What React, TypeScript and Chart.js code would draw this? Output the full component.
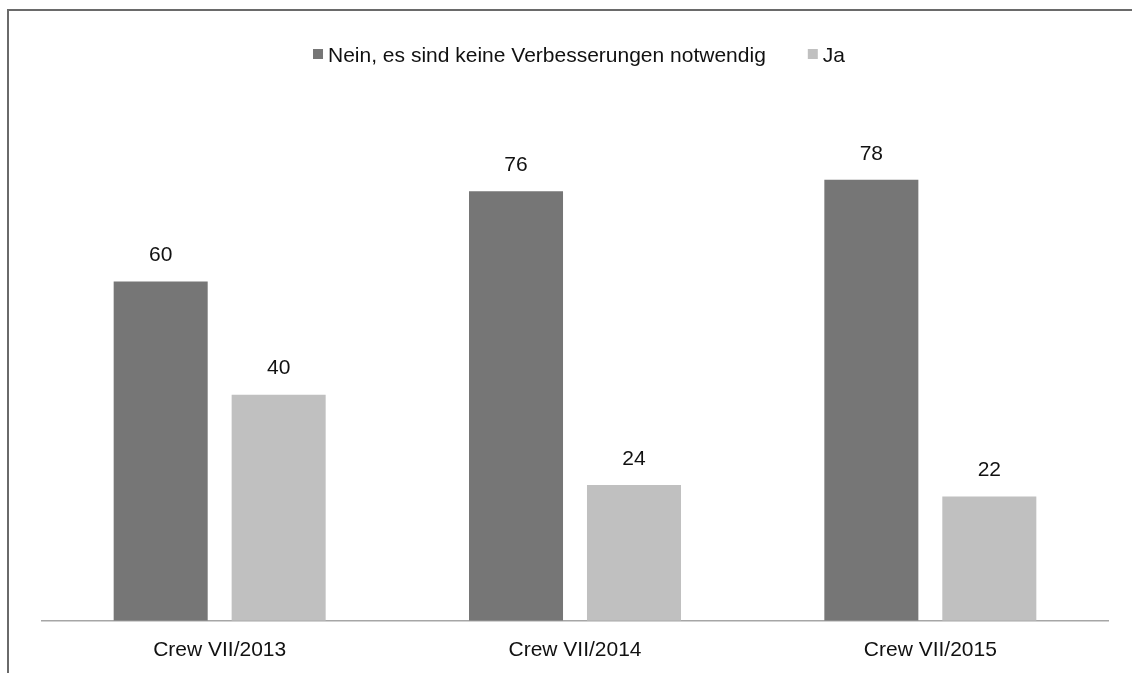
import React, { useEffect, useRef } from "react";
import { Chart, registerables } from "chart.js";

Chart.register(...registerables);

const categories = ["Crew VII/2013", "Crew VII/2014", "Crew VII/2015"];
const seriesNames = ["Nein, es sind keine Verbesserungen notwendig", "Ja"];
const neinValues = [60, 76, 78];
const jaValues = [40, 24, 22];
const seriesColors = ["#767676", "#c0c0c0"];

const FONT = "'Liberation Sans', Arial, sans-serif";

const valueLabelPlugin = {
  id: "valueLabels",
  afterDatasetsDraw(chart: any) {
    const ctx = chart.ctx;
    ctx.save();
    ctx.font = `21px ${FONT}`;
    ctx.fillStyle = "#111111";
    ctx.textAlign = "center";
    ctx.textBaseline = "middle";
    chart.data.datasets.forEach((ds: any, di: number) => {
      const meta = chart.getDatasetMeta(di);
      meta.data.forEach((bar: any, i: number) => {
        ctx.fillText(String(ds.data[i]), bar.x, bar.y - 26);
      });
    });
    ctx.restore();
  },
};

const legendPlugin = {
  id: "customLegend",
  afterDraw(chart: any) {
    const ctx = chart.ctx;
    ctx.save();
    ctx.font = `21px ${FONT}`;
    ctx.textBaseline = "middle";
    ctx.textAlign = "left";
    const box = 10;
    const gap = 5;
    const spacing = 42;
    const widths = chart.data.datasets.map((ds: any) => ctx.measureText(ds.label).width);
    const total = widths.reduce((a: number, w: number) => a + box + gap + w, 0) + spacing * (widths.length - 1);
    let x = 579 - total / 2;
    const yc = 56;
    chart.data.datasets.forEach((ds: any, i: number) => {
      ctx.fillStyle = ds.backgroundColor;
      ctx.fillRect(x, yc - 7, box, box);
      ctx.fillStyle = "#111111";
      ctx.fillText(ds.label, x + box + gap, yc);
      x += box + gap + widths[i] + spacing;
    });
    ctx.restore();
  },
};

export default function App() {
  const canvasRef = useRef<HTMLCanvasElement | null>(null);

  useEffect(() => {
    if (!canvasRef.current) return;
    const chart = new Chart(canvasRef.current, {
      type: "bar",
      data: {
        labels: categories,
        datasets: [
          {
            label: seriesNames[0],
            data: neinValues,
            backgroundColor: seriesColors[0],
            categoryPercentage: 0.664,
            barPercentage: 0.797,
          },
          {
            label: seriesNames[1],
            data: jaValues,
            backgroundColor: seriesColors[1],
            categoryPercentage: 0.664,
            barPercentage: 0.797,
          },
        ],
      },
      options: {
        responsive: false,
        animation: false,
        layout: { padding: { left: 42, right: 24, top: 112, bottom: 0 } },
        plugins: {
          legend: { display: false },
          tooltip: { enabled: false },
          title: { display: false },
        },
        scales: {
          x: {
            grid: { display: false, drawTicks: false },
            border: { display: true, color: "#a6a6a6", width: 1.5 },
            ticks: {
              color: "#111111",
              padding: 17,
              font: { family: FONT, size: 21 },
            },
          },
          y: {
            display: false,
            min: 0,
            max: 90,
          },
        },
      },
      plugins: [valueLabelPlugin, legendPlugin],
    });
    return () => chart.destroy();
  }, []);

  return (
    <div
      style={{
        position: "fixed",
        left: 0,
        top: 0,
        width: 1132,
        height: 673,
        overflow: "hidden",
        background: "#ffffff",
      }}
    >
      <div
        style={{
          position: "absolute",
          left: 7,
          top: 9,
          width: 1200,
          height: 800,
          borderLeft: "2px solid #6a6a6a",
          borderTop: "2px solid #6a6a6a",
        }}
      />
      <canvas
        ref={canvasRef}
        width={1132}
        height={680}
        style={{ position: "absolute", left: 0, top: 0 }}
      />
    </div>
  );
}
